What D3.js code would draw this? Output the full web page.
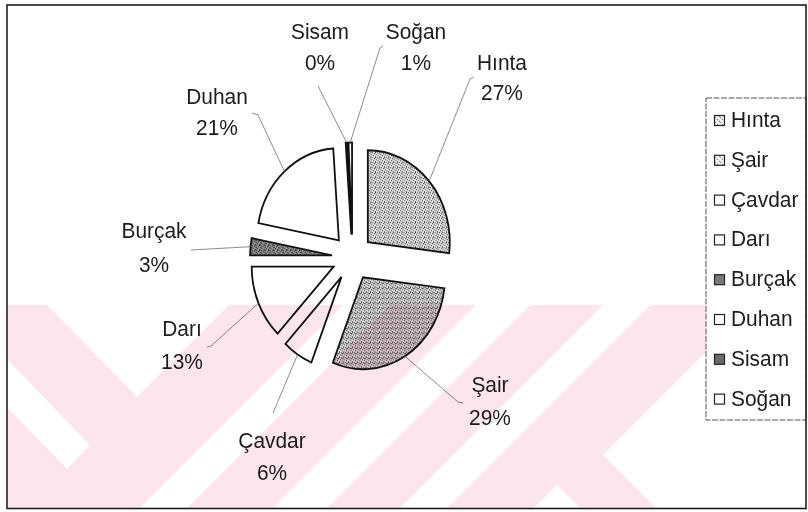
<!DOCTYPE html>
<html>
<head>
<meta charset="utf-8">
<script src="https://cdn.jsdelivr.net/npm/d3@7"></script>
<style>
  body { margin: 0; background: #fff; }
  svg { display: block; font-family: "Liberation Sans", Arial, sans-serif; }
  .label { font-size: 22.5px; fill: #1c1c1c; text-anchor: middle; }
  .leader { fill: none; stroke: #6e6e6e; stroke-width: 0.8; }
  .slice { stroke: #111; stroke-width: 1.8; vector-effect: non-scaling-stroke; }
  .legend-text { font-size: 22.5px; fill: #1c1c1c; }
</style>
</head>
<body>
<div id="chart"></div>
<script>
// crop shares (percent of sown area)
var crops = ["Hınta", "Şair", "Çavdar", "Darı", "Burçak", "Duhan", "Sisam", "Soğan"];
var shares = [26.9, 29.1, 6.0, 13.0, 3.0, 20.9, 0.4, 0.7];

// look of each slice, same order as crops
var sliceFills = ["url(#stip-light)", "url(#stip-mid)", "#fff", "#fff", "url(#stip-dark)", "#fff", "#4a4a4a", "#fff"];
var keyFills = ["url(#stip-key)", "url(#stip-key)", "#fff", "#fff", "#7a7a7a", "#fff", "#6a6a6a", "#fff"];

// label placement: centre x, first baseline, second baseline, leader bend, leader end
var labelPos = [
  [502, 70, 100, [470, 79], [474, 77]],
  [490, 392, 425, [458, 402], [463, 403]],
  [272, 448, 480, [273, 413], [273, 413]],
  [182, 336, 369, [211, 346], [207, 347]],
  [154, 238, 272, [191, 250], [191, 250]],
  [217, 104, 135, [258, 115], [252, 113]],
  [320, 39, 70, [319, 88], [318, 86]],
  [416, 39, 70, [380, 48], [383, 46]]
];

var width = 808, height = 512;
var cx = 352.5, cy = 257.5,
    radius = 92,
    squeeze = 0.891,
    explode = 23,
    narrow = 0.93; // the scanned type is a little condensed

var data = crops.map(function(c, i) { return {name: c, value: shares[i]}; });
var total = d3.sum(shares);

var fill = d3.scaleOrdinal().domain(crops).range(sliceFills);
var keyFill = d3.scaleOrdinal().domain(crops).range(keyFills);

var pie = d3.pie()
    .sort(null)
    .value(function(d) { return d.value; });

var arc = d3.arc()
    .innerRadius(0)
    .outerRadius(radius);

var svg = d3.select("#chart").append("svg")
    .attr("width", width)
    .attr("height", height);

// stipple textures for the shaded slices
var defs = svg.append("defs");
function stipple(id, bg, ink, dots) {
  var p = defs.append("pattern")
      .attr("id", id)
      .attr("patternUnits", "userSpaceOnUse")
      .attr("width", 5)
      .attr("height", 5);
  p.append("rect").attr("width", 5).attr("height", 5).attr("fill", bg);
  dots.forEach(function(d) {
    p.append("rect").attr("x", d[0]).attr("y", d[1]).attr("width", 1).attr("height", 1).attr("fill", ink);
  });
}
stipple("stip-light", "#e2e2e2", "#3a3a3a", [[0, 0], [2, 1], [4, 2], [1, 3], [3, 4], [3, 0]]);
stipple("stip-mid", "#dcdcdc", "#333", [[0, 0], [2, 1], [4, 2], [1, 3], [3, 4], [3, 0], [1, 1]]);
stipple("stip-dark", "#9a9a9a", "#222", [[0, 0], [2, 1], [4, 2], [1, 3], [3, 4], [3, 0], [0, 2], [4, 4]]);
stipple("stip-key", "#f0f0f0", "#777", [[0, 0], [2, 2], [4, 4]]);

var arcs = pie(data);

function mid(d) { return (d.startAngle + d.endAngle) / 2; }

// point on the (squeezed, exploded) rim at the slice's middle angle
function rimPoint(d) {
  var a = mid(d), r = radius + explode;
  return [cx + squeeze * r * Math.sin(a), cy - r * Math.cos(a)];
}

var pieG = svg.append("g")
    .attr("transform", "translate(" + cx + "," + cy + ") scale(" + squeeze + ",1)");

pieG.selectAll(".slice")
  .data(arcs)
  .enter().append("path")
    .attr("class", "slice")
    .attr("transform", function(d) {
      var a = mid(d);
      return "translate(" + (explode * Math.sin(a)) + "," + (-explode * Math.cos(a)) + ")";
    })
    .attr("fill", function(d) { return fill(d.data.name); })
    .attr("d", arc);

// leader lines
var line = d3.line();
svg.append("g").selectAll(".leader")
  .data(arcs)
  .enter().append("path")
    .attr("class", "leader")
    .attr("d", function(d, i) {
      return line([rimPoint(d), labelPos[i][3], labelPos[i][4]]);
    });

// data labels
var labels = svg.append("g")
    .attr("transform", "scale(" + narrow + ",1)")
  .selectAll(".label")
  .data(arcs)
  .enter().append("text")
    .attr("class", "label");
labels.append("tspan")
    .attr("x", function(d, i) { return labelPos[i][0] / narrow; })
    .attr("y", function(d, i) { return labelPos[i][1]; })
    .text(function(d) { return d.data.name; });
labels.append("tspan")
    .attr("x", function(d, i) { return labelPos[i][0] / narrow; })
    .attr("y", function(d, i) { return labelPos[i][2]; })
    .text(function(d) { return Math.round(d.data.value / total * 100) + "%"; });

// faint watermark printed over the lower part of the scan
var mark = svg.append("g").style("mix-blend-mode", "multiply");
mark.append("rect")
    .attr("x", 8).attr("y", 305)
    .attr("width", 798).attr("height", 203)
    .attr("fill", "#fce6eb");
var gaps = [
  [[47, 305], [137, 397], [229, 305]],
  [[0, 352], [90, 445], [67, 469], [0, 400]],
  [[140, 508], [187, 508], [390, 305], [343, 305]],
  [[273, 508], [327, 508], [530, 305], [476, 305]],
  [[400, 508], [447, 508], [650, 305], [603, 305]],
  [[603, 455], [753, 305], [806, 305], [806, 508], [656, 508]],
  [[534, 508], [557, 485], [580, 508]]
];
mark.selectAll(".gap")
  .data(gaps)
  .enter().append("path")
    .attr("fill", "#fff")
    .attr("d", function(d) { return line(d) + "Z"; });

// legend
var legend = svg.append("g");
legend.append("rect")
    .attr("x", 706).attr("y", 98)
    .attr("width", 100).attr("height", 322)
    .attr("fill", "#fff")
    .attr("stroke", "#555")
    .attr("stroke-width", 1)
    .attr("stroke-dasharray", "6,1.5");

var key = legend.selectAll(".key")
  .data(crops)
  .enter().append("g")
    .attr("class", "key")
    .attr("transform", function(d, i) { return "translate(0," + (127 + i * 39.8) + ")"; });
key.append("rect")
    .attr("x", 714.5).attr("y", -11.5)
    .attr("width", 10).attr("height", 10)
    .attr("fill", function(d) { return keyFill(d); })
    .attr("stroke", "#222")
    .attr("stroke-width", 1.2);
key.append("text")
    .attr("class", "legend-text")
    .attr("transform", "scale(" + narrow + ",1)")
    .attr("x", 731 / narrow)
    .attr("y", 0)
    .text(function(d) { return d; });

// chart frame
svg.append("rect")
    .attr("x", 7).attr("y", 5)
    .attr("width", 799).attr("height", 503.5)
    .attr("fill", "none")
    .attr("stroke", "#1e1e1e")
    .attr("stroke-width", 1.6);
</script>
</body>
</html>
